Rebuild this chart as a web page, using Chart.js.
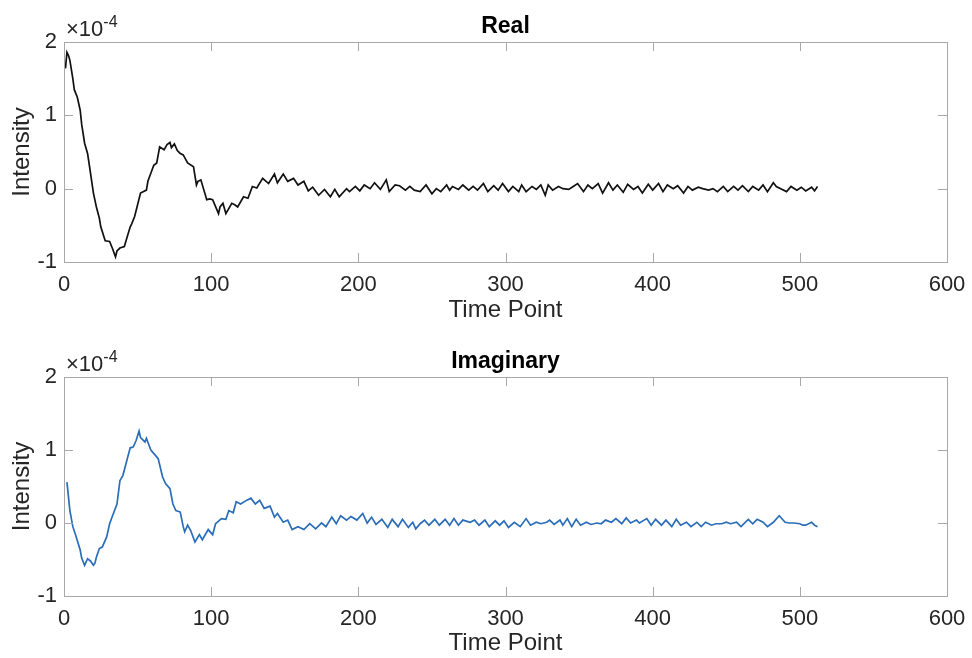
<!DOCTYPE html>
<html>
<head>
<meta charset="utf-8">
<script src="https://cdn.jsdelivr.net/npm/chart.js@4.4.1/dist/chart.umd.min.js"></script>
<style>
  html, body { margin: 0; padding: 0; background: #fff; }
  canvas { display: block; }
</style>
</head>
<body>
<canvas id="realChart" width="972" height="329"></canvas>
<canvas id="imagChart" width="972" height="329"></canvas>
<script>
// tick values
const xTicks = [0, 100, 200, 300, 400, 500, 600];
const yTicks = [-1, 0, 1, 2];

// values are in units of 1e-4 (the axis shows "x10^-4")
const realT = [1,2,3,4,6,7,8,9,11,12,14,16,17,20,22,24,25,28,31,33,35,36,38,41,42,45,46,48,50,52,56,57,59,61,63,65,68,70,72,73,75,77,79,81,84,88,90,91,93,97,99,101,105,106,108,110,114,116,118,122,125,128,131,135,139,143,145,149,152,156,159,163,166,169,173,177,181,184,187,192,194,198,201,204,208,211,215,219,221,225,228,232,235,238,242,246,250,253,256,260,262,264,268,271,275,278,281,285,288,292,295,298,302,305,309,311,314,318,321,324,327,329,332,336,339,343,346,349,353,356,359,363,366,370,373,376,380,383,387,390,393,397,400,404,407,410,414,417,421,424,427,431,434,438,441,444,448,451,455,458,461,465,468,472,475,478,482,484,487,491,494,498,501,504,508,510,512];
const realV = [1.64,1.86,1.82,1.75,1.5,1.35,1.3,1.25,1.07,0.88,0.62,0.48,0.35,-0.06,-0.25,-0.4,-0.52,-0.71,-0.72,-0.82,-0.93,-0.85,-0.81,-0.79,-0.72,-0.52,-0.48,-0.38,-0.22,-0.06,-0.02,0.1,0.21,0.32,0.35,0.57,0.53,0.6,0.63,0.56,0.61,0.52,0.48,0.46,0.35,0.3,0.05,0.1,0.12,-0.15,-0.14,-0.15,-0.34,-0.25,-0.2,-0.34,-0.2,-0.22,-0.25,-0.11,-0.13,0.03,0.01,0.14,0.07,0.2,0.08,0.2,0.1,0.14,0.05,0.1,-0.03,0.02,-0.09,-0.01,-0.11,-0.01,-0.11,0.0,-0.04,0.03,-0.03,0.05,0.0,0.08,-0.01,0.12,-0.04,0.05,0.04,-0.02,0.03,-0.02,-0.04,0.05,-0.07,0.0,-0.04,0.05,-0.02,0.03,-0.01,0.05,-0.02,0.03,-0.02,0.07,-0.04,0.04,-0.02,0.07,-0.04,0.03,-0.04,0.05,-0.04,0.03,-0.01,0.05,-0.09,0.05,-0.02,0.03,0.0,-0.01,0.03,0.07,-0.04,0.05,0.0,0.07,-0.06,0.08,-0.02,0.05,-0.05,0.06,-0.01,0.03,-0.06,0.06,-0.02,0.07,-0.04,0.05,0.0,0.04,-0.06,0.03,-0.02,0.02,0.0,-0.02,0.0,-0.04,0.03,-0.04,0.03,-0.02,0.04,-0.04,0.03,-0.02,0.05,-0.04,0.08,0.03,0.0,-0.04,0.03,-0.02,0.02,-0.03,0.02,-0.03,0.03];

const imagT = [2,4,6,8,11,12,14,16,18,20,21,22,24,26,29,31,33,36,38,40,43,45,47,49,51,52,55,56,59,62,64,67,69,72,74,76,79,81,82,84,86,89,92,94,98,101,103,107,110,112,115,117,120,124,127,130,133,136,140,143,145,149,152,155,159,163,167,171,175,178,182,185,188,192,195,199,203,206,209,212,216,220,223,227,230,234,237,239,242,245,248,252,255,259,262,265,268,271,276,279,282,286,289,293,296,299,302,306,310,314,317,321,324,328,330,333,337,339,342,345,348,351,355,358,362,365,368,372,375,379,382,385,389,391,396,399,402,406,409,413,416,419,423,426,430,433,436,440,443,447,450,453,457,460,465,468,471,475,478,482,486,490,493,496,500,502,504,508,510,512];
const imagV = [0.56,0.17,-0.05,-0.17,-0.37,-0.48,-0.58,-0.49,-0.52,-0.58,-0.55,-0.47,-0.35,-0.33,-0.19,-0.01,0.1,0.26,0.58,0.65,0.88,1.03,1.04,1.13,1.26,1.17,1.11,1.16,1.0,0.93,0.88,0.63,0.54,0.47,0.26,0.17,0.15,-0.05,-0.12,-0.03,-0.1,-0.26,-0.16,-0.23,-0.09,-0.16,-0.01,0.06,0.05,0.17,0.14,0.29,0.26,0.31,0.34,0.26,0.31,0.2,0.23,0.08,0.13,0.01,0.04,-0.09,-0.05,-0.09,-0.01,-0.08,0.0,-0.05,0.08,-0.01,0.1,0.04,0.09,0.04,0.13,0.0,0.08,-0.02,0.05,-0.06,0.05,-0.05,0.05,-0.06,0.01,-0.08,-0.01,0.04,-0.03,0.05,-0.03,0.05,-0.03,0.06,-0.03,0.04,0.01,0.04,-0.03,0.04,-0.05,0.03,-0.03,0.03,-0.06,0.01,-0.05,0.06,-0.03,0.01,-0.01,0.01,0.04,-0.02,0.04,-0.03,0.06,-0.05,0.05,-0.03,0.01,-0.02,0.0,-0.01,0.04,0.01,0.06,-0.01,0.07,0.0,0.04,0.0,0.06,-0.03,0.05,-0.03,0.04,-0.05,0.05,-0.03,0.01,-0.05,0.01,-0.05,0.01,-0.03,-0.01,-0.01,0.01,-0.01,0.01,-0.05,0.05,-0.01,0.05,0.01,-0.05,0.01,0.1,0.01,0.0,0.0,-0.01,-0.03,-0.03,0.01,-0.03,-0.05];

const FONT = "'Liberation Sans', Arial, Helvetica, sans-serif";
const AXIS = '#a8a8a8';
const TEXT = '#262626';

// MATLAB-like box, inward ticks, title and the exponent label
const matlabAxes = {
  id: 'matlabAxes',
  afterDraw(chart, args, opts) {
    const ctx = chart.ctx;
    const a = chart.chartArea;
    const xs = chart.scales.x, ys = chart.scales.y;
    ctx.save();
    ctx.strokeStyle = AXIS;
    ctx.lineWidth = 1;
    ctx.beginPath();
    xTicks.forEach(v => {
      const px = Math.round(xs.getPixelForValue(v)) + 0.5;
      ctx.moveTo(px, a.bottom); ctx.lineTo(px, a.bottom - 9);
      ctx.moveTo(px, a.top); ctx.lineTo(px, a.top + 9);
    });
    yTicks.forEach(v => {
      const py = Math.round(ys.getPixelForValue(v)) + 0.5;
      ctx.moveTo(a.left, py); ctx.lineTo(a.left + 9, py);
      ctx.moveTo(a.right, py); ctx.lineTo(a.right - 9, py);
    });
    ctx.stroke();
    ctx.strokeRect(Math.round(a.left) + 0.5, Math.round(a.top) + 0.5,
      Math.round(a.right - a.left), Math.round(a.bottom - a.top));

    ctx.fillStyle = '#000';
    ctx.font = 'bold 23px ' + FONT;
    ctx.textAlign = 'center';
    ctx.textBaseline = 'alphabetic';
    ctx.fillText(opts.title, (a.left + a.right) / 2, a.top - 9);

    ctx.fillStyle = TEXT;
    ctx.textAlign = 'left';
    ctx.font = '22px ' + FONT;
    ctx.fillText('×10', a.left + 2, a.top - 6);
    const w = ctx.measureText('×10').width;
    ctx.font = '16px ' + FONT;
    ctx.fillText('-4', a.left + 2 + w, a.top - 15);
    ctx.restore();
  }
};

function makeChart(id, title, ts, vs, color, top, xHeight, titlePad) {
  return new Chart(document.getElementById(id), {
    type: 'line',
    data: {
      datasets: [{
        data: ts.map((t, i) => ({ x: t, y: vs[i] })),
        borderColor: color,
        borderWidth: 1.7,
        pointRadius: 0,
        tension: 0,
        fill: false
      }]
    },
    options: {
      responsive: false,
      animation: false,
      events: [],
      layout: { padding: { top: top, right: 25, left: 0, bottom: 0 } },
      plugins: {
        legend: { display: false },
        tooltip: { enabled: false },
        matlabAxes: { title: title }
      },
      scales: {
        x: {
          type: 'linear',
          min: 0,
          max: 600,
          afterBuildTicks: s => { s.ticks = xTicks.map(v => ({ value: v })); },
          afterFit: s => { s.height = xHeight; s.paddingLeft = 0; s.paddingRight = 0; },
          grid: { display: false, drawTicks: false },
          border: { display: false },
          ticks: { padding: 10, color: TEXT, maxRotation: 0, font: { family: FONT, size: 22 } },
          title: { display: true, text: 'Time Point', color: TEXT,
            font: { family: FONT, size: 24 }, padding: { top: 0, bottom: titlePad } }
        },
        y: {
          type: 'linear',
          min: -1,
          max: 2,
          afterBuildTicks: s => { s.ticks = yTicks.map(v => ({ value: v })); },
          afterFit: s => { s.width = 64; s.paddingTop = 0; s.paddingBottom = 0; },
          grid: { display: false, drawTicks: false },
          border: { display: false },
          ticks: { padding: 7, color: TEXT, font: { family: FONT, size: 22 } },
          title: { display: true, text: 'Intensity', color: TEXT,
            font: { family: FONT, size: 24 }, padding: { top: 8, bottom: 0 } }
        }
      }
    },
    plugins: [matlabAxes]
  });
}

makeChart('realChart', 'Real', realT, realV, '#111111', 42, 67, 4);
makeChart('imagChart', 'Imaginary', imagT, imagV, '#2a6db8', 48, 62, 0);
</script>
</body>
</html>
